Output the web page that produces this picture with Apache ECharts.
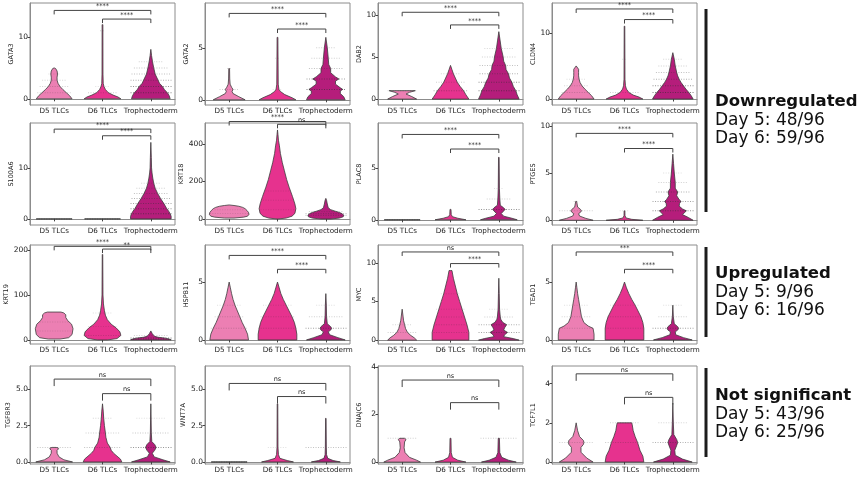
<!DOCTYPE html>
<html>
<head>
<meta charset="utf-8">
<script src="https://cdn.jsdelivr.net/npm/echarts@6/dist/echarts.min.js"></script>
<style>
  html, body { margin: 0; padding: 0; background: #ffffff; }
  #chart { width: 858px; height: 478px; }
</style>
</head>
<body>
<div id="chart"></div>
<script>
// genes, row by row
const genes = ["GATA3", "GATA2", "DAB2", "CLDN4",
               "S100A6", "KRT18", "PLAC8", "PTGES",
               "KRT19", "HSPB11", "MYC", "TEAD1",
               "TGFBR3", "WNT7A", "DNAJC6", "TCF7L1"];
const groups = ["D5 TLCs", "D6 TLCs", "Trophectoderm"];

// y ranges and ticks
const yMin = [-1, -0.5, -0.7, -0.9, -1.2, -32, -0.5, -0.5, -9, -0.35, -0.5, -0.35, -0.14, -0.14, -0.08, -0.1];
const yMax = [15.5, 9.3, 11.4, 14.5, 18.8, 512, 9.3, 10.3, 211, 8.2, 12.3, 8.2, 6.6, 6.6, 4.04, 4.9];
const yTicks = [[0, 10], [0, 5], [0, 5, 10], [0, 10],
                [0, 10], [0, 200, 400], [0, 5], [0, 5, 10],
                [0, 100, 200], [0, 5], [0, 5, 10], [0, 5],
                [0, 2.5, 5], [0, 2.5, 5], [0, 2, 4], [0, 2, 4]];
const yTickLabels = [["0", "10"], ["0", "5"], ["0", "5", "10"], ["0", "10"],
                     ["0", "10"], ["0", "200", "400"], ["0", "5"], ["0", "5", "10"],
                     ["0", "100", "200"], ["0", "5"], ["0", "5", "10"], ["0", "5"],
                     ["0.0", "2.5", "5.0"], ["0.0", "2.5", "5.0"], ["0", "2", "4"], ["0", "2", "4"]];

// significance: outer = D5 vs Trophectoderm, inner = D6 vs Trophectoderm
const sigOuter = ["****", "****", "****", "****", "****", "****", "****", "****",
                  "****", "****", "ns", "***", "ns", "ns", "ns", "ns"];
const sigInner = ["****", "****", "****", "****", "****", "ns", "****", "****",
                  "**", "****", "****", "****", "ns", "ns", "ns", "ns"];
const bracketOuter = [14.3, 8.3, 10.3, 13.6, 17.6, 520, 8.2, 9.2, 208, 7.3, 11.4, 7.6, 5.7, 5.4, 3.45, 4.5];
const bracketInner = [12.9, 6.8, 8.8, 12.0, 16.3, 505, 6.8, 7.6, 202, 6.1, 9.9, 6.1, 4.7, 4.5, 2.5, 3.3];

// violin outlines: [expression, half width as share of the category band]
const violinD5 = [
  [[0,0.37],[0.5,0.32],[1,0.25],[1.5,0.18],[2,0.12],[2.5,0.08],[3,0.06],[3.5,0.06],[4,0.07],[4.5,0.06],[4.9,0.03],[5,0]],
  [[0,0.33],[0.3,0.2],[0.6,0.08],[0.8,0.06],[1,0.08],[1.2,0.05],[1.5,0.02],[2,0.012],[3,0.008],[3,0]],
  [[0,0.3],[0.3,0.2],[0.6,0.08],[0.8,0.15],[1,0.27]],
  [[0,0.37],[0.5,0.32],[1,0.25],[1.5,0.18],[2,0.12],[2.5,0.08],[3,0.06],[3.5,0.05],[4,0.05],[4.5,0.05],[5,0]],
  [[0,0.37],[0,0.37]],
  [[5,0.1],[10,0.3],[15,0.38],[25,0.41],[35,0.4],[45,0.37],[55,0.33],[62,0.28],[68,0.2],[72,0.1],[75,0]],
  [[0,0.37],[0,0.37]],
  [[0,0.35],[0.2,0.2],[0.45,0.07],[0.7,0.05],[0.85,0.09],[1,0.11],[1.15,0.09],[1.4,0.03],[2,0.01],[2,0]],
  [[2,0.12],[5,0.3],[12,0.37],[25,0.39],[35,0.36],[43,0.28],[50,0.24],[56,0.24],[60,0.2],[62,0.14]],
  [[0,0.4],[0.5,0.38],[1,0.33],[1.5,0.27],[2,0.22],[2.5,0.17],[3,0.12],[3.5,0.08],[4,0.05],[4.5,0.025],[5,0]],
  [[0,0.3],[0.3,0.25],[0.6,0.18],[1,0.11],[1.5,0.07],[2,0.05],[2.5,0.03],[3,0.02],[4,0]],
  [[0,0.37],[0.5,0.37],[1,0.35],[1.2,0.25],[1.5,0.16],[2,0.11],[2.5,0.09],[3,0.07],[3.5,0.05],[4,0.03],[4.5,0.015],[5,0]],
  [[0,0.38],[0.15,0.2],[0.35,0.1],[0.6,0.06],[0.8,0.06],[0.9,0.09],[0.97,0.08],[1,0.04]],
  [[0,0.37],[0,0.37]],
  [[0,0.38],[0.08,0.3],[0.2,0.15],[0.4,0.06],[0.6,0.04],[0.85,0.05],[0.95,0.08],[1,0.05]],
  [[0,0.35],[0.2,0.22],[0.5,0.1],[0.75,0.1],[0.9,0.15],[1,0.16],[1.1,0.15],[1.3,0.07],[1.6,0.03],[2,0]]
];
const violinD6 = [
  [[0,0.38],[0.3,0.32],[0.6,0.22],[1,0.12],[1.5,0.06],[2,0.03],[2.5,0.015],[4,0.01],[12,0.008],[12,0]],
  [[0,0.38],[0.2,0.3],[0.5,0.15],[0.8,0.06],[1,0.03],[1.5,0.015],[6,0.008],[6,0]],
  [[0,0.38],[0.5,0.32],[1,0.27],[1.5,0.2],[2,0.14],[2.5,0.1],[3,0.06],[3.5,0.03],[4,0]],
  [[0,0.38],[0.3,0.3],[0.6,0.18],[1,0.09],[1.5,0.04],[2,0.02],[3,0.01],[11,0.006],[11,0]],
  [[0,0.37],[0,0.37]],
  [[0,0],[5,0.18],[15,0.3],[30,0.36],[55,0.38],[80,0.36],[120,0.31],[170,0.24],[210,0.19],[260,0.14],[300,0.1],[350,0.06],[390,0.04],[420,0.02],[450,0.01],[475,0]],
  [[0,0.32],[0.15,0.15],[0.3,0.04],[0.5,0.015],[1,0.01],[1,0]],
  [[0,0.38],[0.1,0.15],[0.25,0.03],[0.5,0.01],[1,0.008],[1,0]],
  [[0,0.1],[3,0.3],[10,0.38],[18,0.36],[27,0.28],[35,0.18],[45,0.1],[55,0.06],[65,0.04],[80,0.02],[100,0.01],[190,0.005],[190,0]],
  [[0,0.4],[0.5,0.4],[1,0.38],[1.5,0.35],[2,0.3],[2.5,0.24],[3,0.18],[3.5,0.12],[4,0.07],[4.5,0.035],[5,0]],
  [[0,0.38],[1,0.38],[2,0.34],[3,0.29],[4,0.24],[5,0.19],[6,0.14],[7,0.1],[8,0.06],[9,0.03],[9,0]],
  [[0,0.4],[0.5,0.4],[1,0.4],[1.5,0.38],[2,0.34],[2.5,0.28],[3,0.22],[3.5,0.15],[4,0.09],[4.5,0.04],[5,0]],
  [[0,0.4],[0.2,0.37],[0.4,0.3],[0.6,0.23],[0.8,0.18],[1,0.16],[1.3,0.1],[1.7,0.07],[2,0.06],[2.5,0.04],[3,0.025],[3.5,0.015],[4,0]],
  [[0,0.33],[0.1,0.2],[0.25,0.05],[0.5,0.02],[1,0.01],[4,0.006],[4,0]],
  [[0,0.32],[0.08,0.15],[0.2,0.04],[0.4,0.015],[1,0.01],[1,0]],
  [[0,0.4],[0.3,0.38],[0.6,0.32],[1,0.27],[1.3,0.22],[1.6,0.18],[1.9,0.16],[2,0.15]]
];
const violinTE = [
  [[0,0.4],[0.5,0.38],[1,0.34],[1.5,0.28],[2,0.24],[2.5,0.18],[3,0.15],[4,0.09],[5,0.06],[6,0.035],[7,0.015],[8,0]],
  [[0,0.4],[0.3,0.37],[0.6,0.3],[0.85,0.3],[1,0.35],[1.15,0.3],[1.5,0.2],[1.8,0.2],[2,0.27],[2.2,0.2],[2.6,0.1],[3,0.1],[3.4,0.06],[4,0.05],[5,0.03],[6,0]],
  [[0,0.42],[0.5,0.38],[1,0.35],[1.5,0.3],[2,0.27],[2.5,0.22],[3,0.2],[3.5,0.15],[4,0.14],[4.5,0.1],[5,0.09],[6,0.05],[7,0.025],[8,0]],
  [[0,0.42],[0.5,0.38],[1,0.33],[1.5,0.27],[2,0.22],[2.5,0.17],[3,0.13],[3.5,0.1],[4,0.08],[5,0.05],[6,0.03],[7,0]],
  [[0,0.42],[0.5,0.42],[1,0.4],[1.5,0.37],[2,0.33],[3,0.27],[4,0.2],[5,0.14],[6,0.09],[7,0.06],[8,0.04],[9,0.025],[10,0.015],[12,0.01],[15,0]],
  [[0,0.1],[5,0.28],[12,0.36],[20,0.37],[28,0.34],[35,0.28],[42,0.19],[50,0.1],[60,0.05],[80,0.03],[100,0.015],[110,0]],
  [[0,0.38],[0.15,0.27],[0.35,0.1],[0.6,0.05],[0.85,0.1],[1,0.13],[1.15,0.1],[1.4,0.03],[2,0.02],[3,0.012],[6,0.006],[6,0]],
  [[0,0.42],[0.3,0.32],[0.6,0.2],[0.85,0.25],[1,0.28],[1.2,0.2],[1.5,0.13],[1.8,0.14],[2,0.17],[2.2,0.13],[2.6,0.08],[3,0.1],[3.4,0.05],[4,0.05],[5,0.03],[6,0.015],[7,0]],
  [[0,0.42],[2,0.38],[4,0.3],[6,0.15],[8,0.08],[11,0.05],[14,0.03],[18,0.01],[20,0]],
  [[0,0.4],[0.2,0.25],[0.45,0.08],[0.7,0.05],[0.85,0.1],[1,0.12],[1.15,0.1],[1.4,0.03],[2,0.015],[3,0.01],[4,0]],
  [[0,0.42],[0.2,0.3],[0.45,0.1],[0.7,0.12],[1,0.18],[1.3,0.1],[1.6,0.12],[2,0.16],[2.3,0.08],[2.7,0.04],[3,0.03],[4,0.015],[6,0.008],[8,0]],
  [[0,0.4],[0.2,0.22],[0.45,0.06],[0.7,0.05],[0.85,0.1],[1,0.12],[1.15,0.1],[1.4,0.03],[2,0.01],[3,0]],
  [[0,0.4],[0.15,0.25],[0.35,0.07],[0.6,0.03],[0.8,0.08],[1,0.11],[1.2,0.08],[1.4,0.02],[2,0.01],[4,0]],
  [[0,0.3],[0.1,0.15],[0.25,0.04],[0.5,0.015],[1,0.01],[3,0.005],[3,0]],
  [[0,0.36],[0.08,0.2],[0.2,0.06],[0.4,0.02],[1,0.012],[1,0]],
  [[0,0.4],[0.15,0.2],[0.35,0.05],[0.6,0.04],[0.85,0.08],[1,0.1],[1.15,0.08],[1.4,0.02],[2,0.01],[3,0]]
];

// rows of jittered cells: [expression, half width, density]
const dotsD5 = [
  [[1,0.35,0.3],[2,0.3,0.3],[3,0.25,0.25],[4,0.12,0.2]],
  [[1,0.2,0.3],[3,0.04,0.3]],
  [[1,0.3,0.3]],
  [[1,0.3,0.3],[2,0.25,0.25],[3,0.2,0.2]],
  [[0,0.37,0.5]],
  [[30,0.4,0.2],[50,0.3,0.2]],
  [[0,0.37,0.5]],
  [[1,0.35,0.3],[2,0.05,0.3]],
  [[20,0.35,0.2],[40,0.3,0.2]],
  [[1,0.38,0.3],[2,0.3,0.25],[3,0.25,0.2]],
  [[1,0.3,0.3],[2,0.2,0.25]],
  [[1,0.35,0.3],[2,0.3,0.25],[3,0.25,0.2]],
  [[1,0.35,0.35]],
  [[0,0.37,0.5]],
  [[1,0.3,0.3]],
  [[1,0.35,0.3]]
];
const dotsD6 = [
  [[1,0.3,0.3],[2,0.15,0.2],[11,0.05,0.3]],
  [[1,0.1,0.2],[4,0.05,0.2]],
  [[1,0.35,0.5],[2,0.3,0.3],[3,0.2,0.25]],
  [[1,0.3,0.3],[6,0.05,0.2]],
  [[0,0.37,0.5]],
  [[50,0.35,0.2],[100,0.3,0.2],[150,0.25,0.2]],
  [],
  [[1,0.1,0.2]],
  [[10,0.35,0.3],[30,0.3,0.2],[60,0.2,0.2]],
  [[1,0.4,0.3],[2,0.35,0.25],[3,0.3,0.2]],
  [[1,0.35,0.3],[2,0.35,0.3],[3,0.3,0.25],[4,0.3,0.2],[6,0.2,0.2]],
  [[1,0.4,0.3],[2,0.35,0.3],[3,0.3,0.2]],
  [[1,0.38,0.4],[2,0.35,0.3],[3,0.2,0.25]],
  [[1,0.2,0.2]],
  [],
  [[1,0.4,0.35],[2,0.3,0.25]]
];
const dotsTE = [
  [[1,0.42,0.8],[2,0.42,0.7],[3,0.42,0.5],[4,0.4,0.4],[5,0.35,0.35],[6,0.25,0.3]],
  [[1,0.4,0.8],[2,0.4,0.6],[3,0.35,0.4],[4,0.3,0.3],[5,0.2,0.3]],
  [[1,0.42,0.8],[2,0.42,0.7],[3,0.4,0.5],[4,0.4,0.4],[5,0.35,0.3],[6,0.3,0.25]],
  [[1,0.42,0.8],[2,0.42,0.7],[3,0.4,0.5],[4,0.35,0.4],[5,0.3,0.3],[6,0.2,0.25]],
  [[1,0.42,0.8],[2,0.42,0.7],[3,0.42,0.6],[4,0.4,0.5],[5,0.35,0.4],[6,0.3,0.3],[7,0.2,0.25]],
  [[20,0.42,0.5],[30,0.42,0.4],[40,0.35,0.3]],
  [[1,0.42,0.7],[2,0.25,0.3],[3,0.1,0.2]],
  [[1,0.42,0.7],[2,0.42,0.6],[3,0.35,0.5],[4,0.3,0.3],[5,0.2,0.2]],
  [[2,0.42,0.7],[5,0.42,0.5],[10,0.35,0.3]],
  [[1,0.42,0.6],[2,0.35,0.3],[3,0.2,0.2]],
  [[1,0.42,0.6],[2,0.42,0.5],[3,0.3,0.3],[4,0.2,0.2]],
  [[1,0.42,0.6],[2,0.3,0.3],[3,0.2,0.2]],
  [[1,0.42,0.7],[2,0.38,0.35],[3,0.3,0.2]],
  [[1,0.42,0.4]],
  [[1,0.38,0.3]],
  [[1,0.42,0.5],[2,0.3,0.25]]
];

// summary text on the right
const summaryTitle = ["Downregulated", "Upregulated", "Not significant"];
const summaryDay5 = ["Day 5: 48/96", "Day 5: 9/96", "Day 5: 43/96"];
const summaryDay6 = ["Day 6: 59/96", "Day 6: 16/96", "Day 6: 25/96"];

// layout
const colors = ["#ec7fb3", "#e6328e", "#b51d7b"];
const colLeft = [30, 205, 378, 552];
const plotW = 145;
const rowTop = [3, 123, 245, 366];
const rowBottom = [105, 225, 344, 464];
const font = "DejaVu Sans";

function violinRender(panel) {
  const profiles = [violinD5[panel], violinD6[panel], violinTE[panel]];
  const dots = [dotsD5[panel], dotsD6[panel], dotsTE[panel]];
  return function (params, api) {
    const g = api.value(0);
    const bw = api.size([1, 0])[0];
    const cx = api.coord([g, 0])[0];
    const prof = profiles[g];
    const right = prof.map(function (p) { return [cx + p[1] * bw, api.coord([g, p[0]])[1]]; });
    const left = prof.slice().reverse().map(function (p) { return [cx - p[1] * bw, api.coord([g, p[0]])[1]]; });
    const children = [{
      type: "polygon",
      shape: { points: right.concat(left) },
      style: { fill: colors[g], stroke: "#3c3c3c", lineWidth: 0.8 }
    }];
    dots[g].forEach(function (d) {
      const y = api.coord([g, d[0]])[1];
      const half = d[1] * bw;
      for (let x = cx - half; x <= cx + half; x += 2.5) {
        children.push({
          type: "rect",
          shape: { x: x, y: y - 0.5, width: 1, height: 1 },
          style: { fill: "rgba(50,50,50," + (d[2] * 0.75) + ")" }
        });
      }
    });
    return { type: "group", children: children };
  };
}

function bracketRender(panel, drop) {
  return function (params, api) {
    const p1 = api.coord([api.value(0), api.value(2)]);
    const p2 = api.coord([api.value(1), api.value(2)]);
    const label = params.dataIndex === 0 ? sigOuter[panel] : sigInner[panel];
    return {
      type: "group",
      children: [
        {
          type: "polyline",
          shape: { points: [[p1[0], p1[1] + drop], [p1[0], p1[1]], [p2[0], p2[1]], [p2[0], p2[1] + drop]] },
          style: { stroke: "#444", lineWidth: 1, fill: null }
        },
        {
          type: "text",
          style: {
            text: label, x: (p1[0] + p2[0]) / 2, y: p1[1] - 0.5,
            align: "center", verticalAlign: "bottom",
            fontSize: 6.5, fontFamily: font, fill: "#222"
          }
        }
      ]
    };
  };
}

const option = { animation: false, grid: [], xAxis: [], yAxis: [], series: [], graphic: [] };

genes.forEach(function (gene, i) {
  const r = Math.floor(i / 4), c = i % 4;
  option.grid.push({
    left: colLeft[c], top: rowTop[r], width: plotW, height: rowBottom[r] - rowTop[r],
    show: true, borderColor: "#8c8c8c", borderWidth: 1, containLabel: false, outerBoundsMode: "none"
  });
  option.xAxis.push({
    type: "category", gridIndex: i, data: groups,
    axisLine: { show: true, lineStyle: { color: "#8c8c8c" } },
    axisTick: { show: true, length: 2.5, alignWithLabel: true, lineStyle: { color: "#444" } },
    axisLabel: { interval: 0, fontSize: 7.2, fontFamily: font, color: "#222", margin: 3 }
  });
  option.yAxis.push({
    type: "value", gridIndex: i, min: yMin[i], max: yMax[i],
    name: gene, nameLocation: "middle", nameGap: yMax[i] > 100 ? 19 : 15,
    nameTextStyle: { fontSize: 6.5, fontFamily: font, color: "#222" },
    splitLine: { show: false },
    axisLine: { show: true, lineStyle: { color: "#8c8c8c" } },
    axisTick: { show: true, length: 2.5, customValues: yTicks[i], lineStyle: { color: "#444" } },
    axisLabel: {
      customValues: yTicks[i], fontSize: 7.5, fontFamily: font, color: "#222", margin: 2,
      formatter: function (v) {
        const k = yTicks[i].indexOf(v);
        return k >= 0 ? yTickLabels[i][k] : "";
      }
    }
  });
  option.series.push({
    type: "custom", xAxisIndex: i, yAxisIndex: i, silent: true, clip: false,
    data: groups.map(function (g, k) { return [k, 0]; }),
    encode: { x: 0, y: 1 },
    renderItem: violinRender(i)
  });
  option.series.push({
    type: "custom", xAxisIndex: i, yAxisIndex: i, silent: true, clip: false,
    data: [[0, 2, bracketOuter[i]], [1, 2, bracketInner[i]]],
    encode: { x: 0, y: 2 },
    renderItem: bracketRender(i, r === 3 ? 7 : 4)
  });
});

// bars grouping the rows, and the summary labels
const barTop = [9, 247, 368];
const barBottom = [212, 337, 457];
const titleY = [102, 274, 396];
barTop.forEach(function (t, k) {
  option.graphic.push({
    type: "rect", shape: { x: 704.5, y: t, width: 3, height: barBottom[k] - t },
    style: { fill: "#1c1c1c" }
  });
  option.graphic.push({
    type: "text", x: 715, y: titleY[k],
    style: { text: summaryTitle[k], fontSize: 16.5, fontWeight: "bold", fontFamily: font, fill: "#111", verticalAlign: "middle" }
  });
  option.graphic.push({
    type: "text", x: 715, y: titleY[k] + 19,
    style: { text: summaryDay5[k], fontSize: 17, fontFamily: font, fill: "#111", verticalAlign: "middle" }
  });
  option.graphic.push({
    type: "text", x: 715, y: titleY[k] + 37,
    style: { text: summaryDay6[k], fontSize: 17, fontFamily: font, fill: "#111", verticalAlign: "middle" }
  });
});

const myChart = echarts.init(document.getElementById("chart"), null, { renderer: "canvas" });
myChart.setOption(option);
</script>
</body>
</html>
